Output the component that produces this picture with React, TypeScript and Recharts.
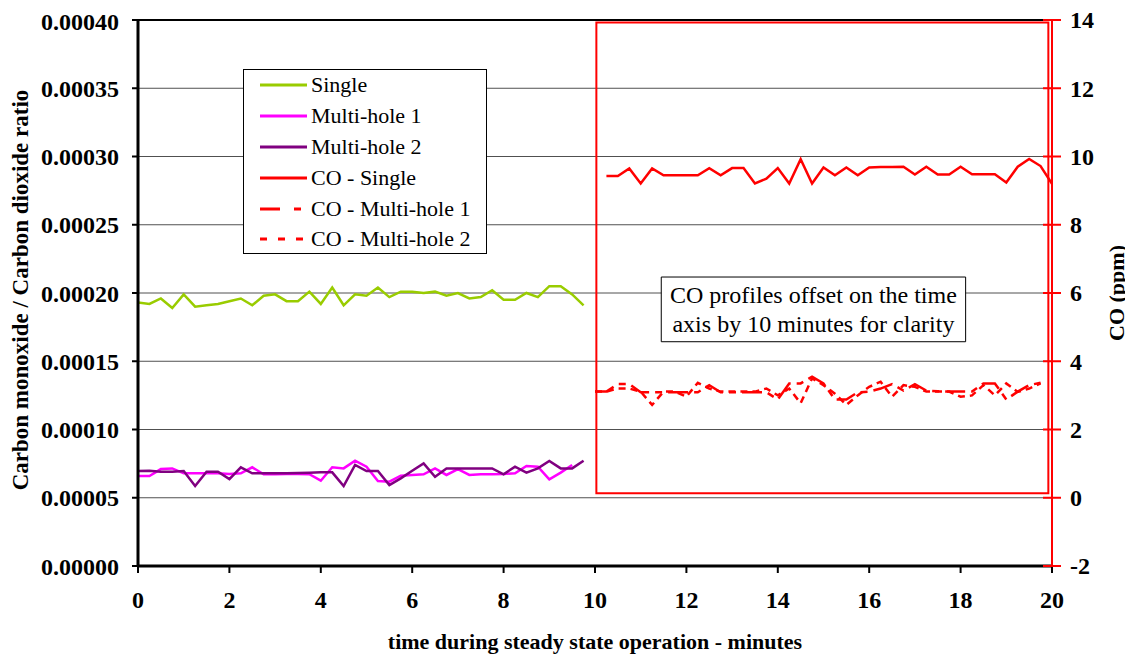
import React from 'react';
import {
  LineChart,
  Line,
  XAxis,
  YAxis,
  CartesianGrid,
  ReferenceArea,
  ReferenceLine,
  Legend,
  Label,
} from 'recharts';

const FONT = '"Liberation Serif", "Times New Roman", Times, serif';

// ---- Data: first 10 minutes (ratio, left axis) ----
const TIME_A = [
  0, 0.25, 0.5, 0.75, 1, 1.25, 1.5, 1.75, 2, 2.25, 2.5, 2.75, 3, 3.25, 3.5, 3.75, 4, 4.25, 4.5, 4.75,
  5, 5.25, 5.5, 5.75, 6, 6.25, 6.5, 6.75, 7, 7.25, 7.5, 7.75, 8, 8.25, 8.5, 8.75, 9, 9.25, 9.5, 9.75,
];
const SINGLE = [
  0.000193, 0.000192, 0.000196, 0.000189, 0.000199, 0.00019, 0.000191, 0.000192, 0.000194, 0.000196,
  0.000191, 0.000198, 0.000199, 0.000194, 0.000194, 0.000201, 0.000192, 0.000204, 0.000191, 0.000199,
  0.000198, 0.000204, 0.000197, 0.000201, 0.000201, 0.0002, 0.000201, 0.000198, 0.0002, 0.000196,
  0.000197, 0.000202, 0.000195, 0.000195, 0.0002, 0.000197, 0.000205, 0.000205, 0.000199, 0.000191,
];
const MULTI1 = [
  0.0000659, 0.0000659, 0.000071, 0.0000715, 0.0000679, 0.0000679, 0.0000679, 0.0000679, 0.0000674, 0.0000679,
  0.0000723, 0.0000672, 0.0000672, 0.0000674, 0.0000674, 0.0000672, 0.0000625, 0.0000723, 0.0000715, 0.0000772,
  0.0000728, 0.0000623, 0.0000618, 0.0000662, 0.0000667, 0.0000672, 0.0000715, 0.0000667, 0.000071, 0.0000667,
  0.0000672, 0.0000672, 0.0000674, 0.0000679, 0.0000733, 0.0000728, 0.0000635, 0.0000684, 0.000074, null,
];
const MULTI2 = [
  0.0000696, 0.0000698, 0.0000691, 0.0000691, 0.0000696, 0.0000586, 0.0000691, 0.0000691, 0.0000637, 0.0000723,
  0.0000679, 0.0000679, 0.0000679, 0.0000679, 0.0000681, 0.0000684, 0.0000686, 0.0000686, 0.0000586, 0.000074,
  0.0000696, 0.0000696, 0.0000593, 0.0000642, 0.0000698, 0.0000752, 0.0000654, 0.0000715, 0.0000715, 0.0000715,
  0.0000715, 0.0000715, 0.0000672, 0.0000728, 0.0000684, 0.0000715, 0.0000769, 0.0000715, 0.0000715, 0.0000771,
];

// ---- Data: CO ppm (right axis), offset by 10 minutes ----
const TIME_B = [
  10, 10.25, 10.5, 10.75, 11, 11.25, 11.5, 11.75, 12, 12.25, 12.5, 12.75, 13, 13.25, 13.5, 13.75, 14, 14.25,
  14.5, 14.75, 15, 15.25, 15.5, 15.75, 16, 16.25, 16.5, 16.75, 17, 17.25, 17.5, 17.75, 18, 18.25, 18.5, 18.75,
  19, 19.25, 19.5, 19.75, 20,
];
const CO_SINGLE = [
  null, 9.43, 9.43, 9.65, 9.21, 9.65, 9.45, 9.45, 9.45, 9.45, 9.66, 9.45, 9.66, 9.66, 9.21, 9.35, 9.66, 9.21,
  9.92, 9.21, 9.68, 9.45, 9.68, 9.45, 9.68, 9.69, 9.69, 9.7, 9.47, 9.7, 9.47, 9.47, 9.7, 9.48, 9.48, 9.48,
  9.24, 9.7, 9.93, 9.72, 9.2,
];
const CO_MULTI1 = [
  3.11, 3.11, 3.33, 3.33, 3.09, 3.09, 3.09, 3.09, 3.09, 3.09, 3.3, 3.09, 3.09, 3.09, 3.09, 3.09, 2.88, 3.35,
  3.35, 3.55, 3.35, 2.88, 2.88, 3.09, 3.11, 3.2, 3.33, 3.14, 3.33, 3.14, 3.12, 3.11, 3.11, 3.11, 3.35, 3.35,
  2.88, 3.11, 3.3, 3.37, null,
];
const CO_MULTI2 = [
  3.11, 3.11, 3.2, 3.2, 3.11, 2.72, 3.11, 3.11, 2.96, 3.37, 3.2, 3.11, 3.11, 3.11, 3.11, 3.2, 3.0, 3.2,
  2.77, 3.5, 3.3, 3.05, 2.72, 3.0, 3.25, 3.4, 2.96, 3.3, 3.25, 3.11, 3.11, 3.11, 2.96, 3.0, 3.3, 3.0,
  3.35, 3.1, 3.2, 3.35, null,
];

// ---- Axis ticks ----
const X_TICKS = [0, 2, 4, 6, 8, 10, 12, 14, 16, 18, 20];
const LEFT_TICKS = [0, 0.00005, 0.0001, 0.00015, 0.0002, 0.00025, 0.0003, 0.00035, 0.0004];
const RIGHT_TICKS = [-2, 0, 2, 4, 6, 8, 10, 12, 14];

const LEGEND_ITEMS = [
  { label: 'Single', color: '#99CC00', dash: undefined },
  { label: 'Multi-hole 1', color: '#FF00FF', dash: undefined },
  { label: 'Multi-hole 2', color: '#800080', dash: undefined },
  { label: 'CO - Single', color: '#FF0000', dash: undefined },
  { label: 'CO - Multi-hole 1', color: '#FF0000', dash: '20 14 7 14' },
  { label: 'CO - Multi-hole 2', color: '#FF0000', dash: '7 11' },
];

const ANNOTATION_LINES = ['CO profiles offset on the time', 'axis by 10 minutes for clarity'];

const data = [
  ...TIME_A.map((t, i) => ({ t, single: SINGLE[i], multi1: MULTI1[i], multi2: MULTI2[i] })),
  ...TIME_B.map((t, i) => ({ t, coSingle: CO_SINGLE[i], coMulti1: CO_MULTI1[i], coMulti2: CO_MULTI2[i] })),
];

const TICK_FONT = 24;
const TITLE_FONT = 22;

const renderLegend = () => (
  <div
    style={{
      width: 244,
      height: 185,
      border: '1px solid #000',
      background: '#fff',
      boxSizing: 'border-box',
      fontFamily: FONT,
      fontSize: 22,
      color: '#000',
      paddingTop: 0,
    }}
  >
    {LEGEND_ITEMS.map((it) => (
      <div key={it.label} style={{ height: 30.8, display: 'flex', alignItems: 'center' }}>
        <svg width={64} height={10} style={{ flex: 'none' }}>
          <line x1={16} x2={63} y1={5} y2={5} stroke={it.color} strokeWidth={3} strokeDasharray={it.dash} />
        </svg>
        <span style={{ marginLeft: 3, whiteSpace: 'nowrap' }}>{it.label}</span>
      </div>
    ))}
  </div>
);

const RightTick = (props: any) => {
  const { x, y, payload } = props;
  const ax = x - 16;
  return (
    <g>
      <line x1={ax - 9} x2={ax + 9} y1={y} y2={y} stroke="#FF0000" strokeWidth={2} />
      <text
        x={x + 2}
        y={y}
        dy="0.35em"
        textAnchor="start"
        fontFamily={FONT}
        fontWeight="bold"
        fontSize={TICK_FONT}
        fill="#000"
      >
        {payload.value}
      </text>
    </g>
  );
};

const AnnotationLabel = (props: any) => {
  const vb = props.viewBox || {};
  const cx = vb.x + vb.width / 2;
  const cy = vb.y + vb.height / 2;
  return (
    <text fontFamily={FONT} fontSize={24} fill="#000" textAnchor="middle">
      <tspan x={cx} y={cy - 6}>{ANNOTATION_LINES[0]}</tspan>
      <tspan x={cx} y={cy + 23}>{ANNOTATION_LINES[1]}</tspan>
    </text>
  );
};

export default function App() {
  return (
    <LineChart width={1125} height={647} data={data} margin={{ top: 12, right: 0, left: 0, bottom: 0 }}>
      <CartesianGrid vertical={false} yAxisId="left" stroke="#505050" strokeWidth={1} />
      <XAxis
        dataKey="t"
        type="number"
        domain={[0, 20]}
        ticks={X_TICKS}
        allowDataOverflow
        height={89}
        tickSize={7}
        tickMargin={18}
        axisLine={{ stroke: '#000', strokeWidth: 3 }}
        tickLine={{ stroke: '#000', strokeWidth: 2 }}
        tick={{ fontSize: TICK_FONT, fontWeight: 'bold', fill: '#000', fontFamily: FONT }}
      >
        <Label
          content={(p: any) => {
            const vb = p.viewBox || {};
            return (
              <text
                x={vb.x + vb.width / 2}
                y={641}
                textAnchor="middle"
                fontFamily={FONT}
                fontWeight="bold"
                fontSize={TITLE_FONT}
                fill="#000"
              >
                time during steady state operation - minutes
              </text>
            );
          }}
        />
      </XAxis>
      <YAxis
        yAxisId="left"
        domain={[0, 0.0004]}
        ticks={LEFT_TICKS}
        width={130}
        tickSize={6}
        tickMargin={13}
        tickFormatter={(v: number) => v.toFixed(5)}
        axisLine={{ stroke: '#000', strokeWidth: 3 }}
        tickLine={{ stroke: '#000', strokeWidth: 2 }}
        tick={{ fontSize: TICK_FONT, fontWeight: 'bold', fill: '#000', fontFamily: FONT }}
      >
        <Label
          content={(p: any) => {
            const vb = p.viewBox || {};
            const x = 20;
            const y = vb.y + vb.height / 2 - 3;
            return (
              <text
                x={x}
                y={y}
                transform={`rotate(-90, ${x}, ${y})`}
                textAnchor="middle"
                fontFamily={FONT}
                fontWeight="bold"
                fontSize={23}
                fill="#000"
              >
                Carbon monoxide / Carbon dioxide ratio
              </text>
            );
          }}
        />
      </YAxis>
      <YAxis
        yAxisId="right"
        orientation="right"
        domain={[-2, 14]}
        ticks={RIGHT_TICKS}
        width={81}
        tickSize={8}
        tickMargin={8}
        tickLine={false}
        axisLine={{ stroke: '#FF0000', strokeWidth: 2 }}
        tick={<RightTick />}
      >
        <Label
          content={(p: any) => {
            const vb = p.viewBox || {};
            const x = 1116;
            const y = vb.y + vb.height / 2;
            return (
              <text
                x={x}
                y={y}
                transform={`rotate(-90, ${x}, ${y})`}
                textAnchor="middle"
                fontFamily={FONT}
                fontWeight="bold"
                fontSize={TITLE_FONT}
                fill="#000"
              >
                CO (ppm)
              </text>
            );
          }}
        />
      </YAxis>
      <ReferenceLine yAxisId="left" y={0.0004} stroke="#000" strokeWidth={2} />
      <ReferenceArea
        yAxisId="right"
        x1={10.03}
        x2={19.92}
        y1={0.13}
        y2={13.93}
        fill="none"
        fillOpacity={0}
        stroke="#FF0000"
        strokeWidth={2}
        ifOverflow="visible"
      />
      <ReferenceArea
        yAxisId="left"
        x1={11.45}
        x2={18.11}
        y1={0.0001643}
        y2={0.0002117}
        fill="#fff"
        fillOpacity={1}
        stroke="#000"
        strokeWidth={1}
        label={<AnnotationLabel />}
      />
      <Legend
        layout="vertical"
        align="center"
        verticalAlign="middle"
        content={renderLegend}
        wrapperStyle={{ left: 235, top: 61, width: 244 }}
      />
      <Line yAxisId="left" type="linear" dataKey="single" stroke="#99CC00" strokeWidth={2.5} dot={false} isAnimationActive={false} />
      <Line yAxisId="left" type="linear" dataKey="multi1" stroke="#FF00FF" strokeWidth={2.5} dot={false} isAnimationActive={false} />
      <Line yAxisId="left" type="linear" dataKey="multi2" stroke="#800080" strokeWidth={2.5} dot={false} isAnimationActive={false} />
      <Line yAxisId="right" type="linear" dataKey="coSingle" stroke="#FF0000" strokeWidth={2.5} dot={false} isAnimationActive={false} />
      <Line yAxisId="right" type="linear" dataKey="coMulti1" stroke="#FF0000" strokeWidth={2.5} strokeDasharray="20 6 7 6" dot={false} isAnimationActive={false} />
      <Line yAxisId="right" type="linear" dataKey="coMulti2" stroke="#FF0000" strokeWidth={2.5} strokeDasharray="7 5" dot={false} isAnimationActive={false} />
    </LineChart>
  );
}
